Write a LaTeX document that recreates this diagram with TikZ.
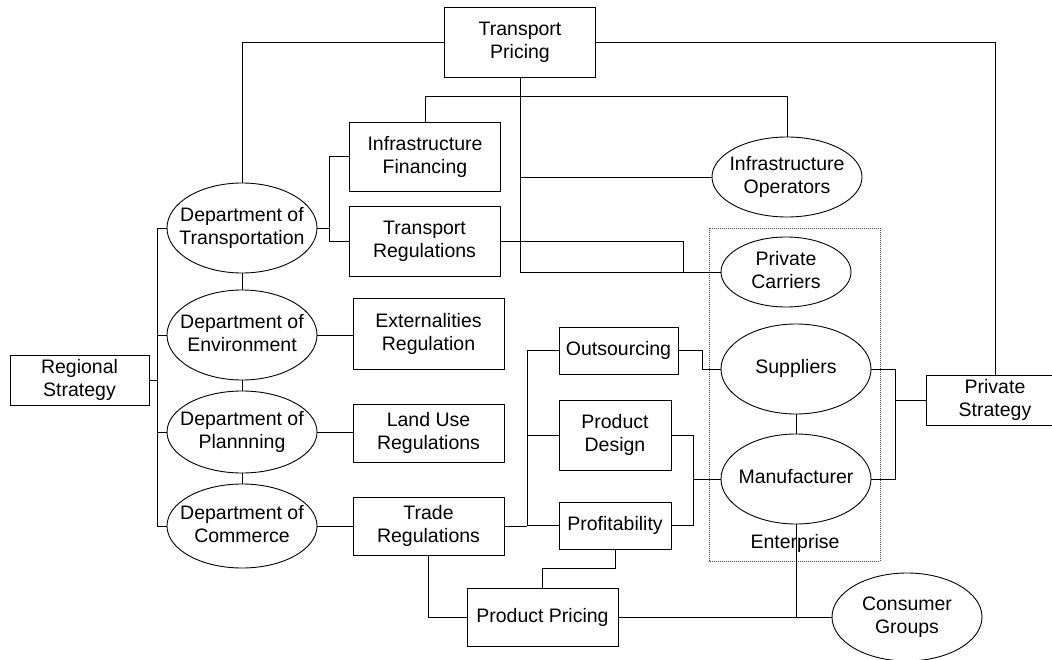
\documentclass[tikz,border=0pt]{standalone}
\usepackage{fontspec}
\setmainfont{Liberation Sans}
\usetikzlibrary{shapes.geometric}
\newcommand{\mlt}[1]{\makebox[0pt]{\begin{tabular}{@{}c@{}}#1\end{tabular}}}
\begin{document}
\begin{tikzpicture}[x=1pt,y=-1pt,
  every node/.style={font=\fontsize{19.5}{23}\selectfont},
  box/.style={draw, rectangle, inner sep=0pt, align=center, line width=0.9pt},
  ell/.style={draw, ellipse, inner sep=0pt, line width=0.9pt},
  conn/.style={line width=0.9pt},
  encl/.style={draw=black!70, line width=0.7pt, dash pattern=on 1pt off 1pt}]
\useasboundingbox (0,0) rectangle (1052,660);

% enterprise enclosure
\draw[encl] (709,228) rectangle (880,561);
\node (ENT) at (795,543) {Enterprise};

% rectangles
\node[box, minimum width=151pt, minimum height=70pt] (TP) at (520,42) {Transport\\Pricing};
\node[box, minimum width=139pt, minimum height=50pt] (RS) at (79.5,380) {Regional\\Strategy};
\node[box, minimum width=151pt, minimum height=69pt] (IF) at (425,156.5) {Infrastructure\\Financing};
\node[box, minimum width=151pt, minimum height=70pt] (TR) at (424.5,241) {Transport\\Regulations};
\node[box, minimum width=151pt, minimum height=71pt] (ER) at (428.5,333.5) {Externalities\\Regulation};
\node[box, minimum width=151pt, minimum height=58pt] (LU) at (428.5,433) {Land Use\\Regulations};
\node[box, minimum width=151pt, minimum height=58pt] (TrR) at (428.5,526) {Trade\\Regulations};
\node[box, minimum width=119pt, minimum height=47pt] (OS) at (618.5,350.5) {Outsourcing};
\node[box, minimum width=112pt, minimum height=70pt] (PD) at (615,435) {Product\\Design};
\node[box, minimum width=112pt, minimum height=47pt] (PF) at (615,525.5) {Profitability};
\node[box, minimum width=151pt, minimum height=58pt] (PP) at (542.5,617) {Product Pricing};
\node[box, minimum width=138pt, minimum height=50pt] (PS) at (995,400) {Private\\Strategy};

% ellipses
\node[ell, minimum width=150pt, minimum height=90pt] (DT) at (242,228) {\mlt{Department of\\Transportation}};
\node[ell, minimum width=150pt, minimum height=90pt] (DE) at (242,335) {\mlt{Department of\\Environment}};
\node[ell, minimum width=150pt, minimum height=82pt] (DP) at (242,432) {\mlt{Department of\\Plannning}};
\node[ell, minimum width=150pt, minimum height=84pt] (DC) at (242,526) {\mlt{Department of\\Commerce}};
\node[ell, minimum width=150pt, minimum height=80pt] (IO) at (787,177) {\mlt{Infrastructure\\Operators}};
\node[ell, minimum width=130pt, minimum height=70pt] (PC) at (786,272) {\mlt{Private\\Carriers}};
\node[ell, minimum width=150pt, minimum height=90pt] (SU) at (796,369) {\mlt{Suppliers}};
\node[ell, minimum width=150pt, minimum height=90pt] (MA) at (796,479) {\mlt{Manufacturer}};
\node[ell, minimum width=150pt, minimum height=88pt] (CG) at (907,617) {\mlt{Consumer\\Groups}};

% regional strategy bus
\draw[conn] (RS.east) -- ++(9,0);
\draw[conn] (DT.west) -- ++(-9,0) |- (DC.west);
\draw[conn] (DE.west) -- ++(-9,0);
\draw[conn] (DP.west) -- ++(-9,0);
\draw[conn] (DT.south) -- (DE.north);
\draw[conn] (DE.south) -- (DP.north);
\draw[conn] (DP.south) -- (DC.north);

% department links
\draw[conn] (DT.east) -- ++(12,0);
\draw[conn] (IF.west) -- ++(-20,0) |- (TR.west);
\draw[conn] (DE.east) -- (DE.east -| ER.west);
\draw[conn] (DP.east) -- (DP.east -| LU.west);
\draw[conn] (DC.east) -- (DC.east -| TrR.west);

% transport pricing links
\draw[conn] (TP.west) -| (DT.north);
\draw[conn] (TP.east) -| (PS.north);
\draw[conn] (TP.south) |- (PC.west);
\draw[conn] (TP.south |- IO.west) -- (IO.west);
\draw[conn] (IF.north) -- ++(0,-25) -| (IO.north);
\coordinate (j1) at (683,272);
\draw[conn] (TR.east) -| (j1);

% trade regulations links
\draw[conn] (TrR.east) -- ++(23,0) coordinate (b2);
\draw[conn] (OS.west) -| (b2);
\draw[conn] (PD.west) -- (PD.west -| b2);
\draw[conn] (PF.west) -- (PF.west -| b2);
\draw[conn] (OS.east) -- ++(24,0) |- (SU.west);
\draw[conn] (PD.east) -- ++(22,0) coordinate (b3) |- (PF.east);
\draw[conn] (MA.west) -- (MA.west -| b3);
\draw[conn] (PF.south) -- ++(0,19) -| (PP.north);
\draw[conn] (TrR.south) |- (PP.west);
\draw[conn] (PP.east) -- (CG.west);
\draw[conn] (MA.south) -- (MA.south |- CG.west);

% enterprise / private strategy
\draw[conn] (SU.south) -- (MA.north);
\draw[conn] (SU.east) -- ++(24,0) coordinate (b4) |- (MA.east);
\draw[conn] (PS.west) -- (PS.west -| b4);
\end{tikzpicture}
\end{document}
